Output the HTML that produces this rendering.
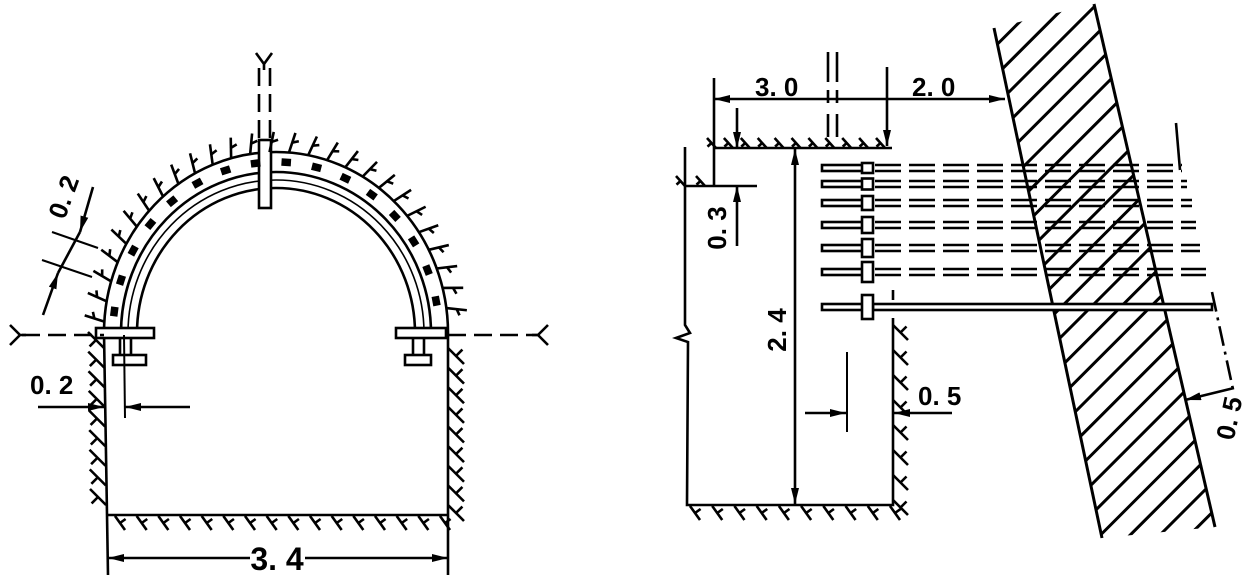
<!DOCTYPE html>
<html><head><meta charset="utf-8"><style>
html,body{margin:0;padding:0;background:#fff;}
svg{display:block;}
text{font-family:"Liberation Sans",sans-serif;font-weight:bold;fill:#000;}
</style></head><body>
<svg id="s" width="1257" height="583" viewBox="0 0 1257 583" xmlns="http://www.w3.org/2000/svg">
<defs>
<marker id="a" viewBox="0 0 16 8" refX="16" refY="4" markerWidth="16" markerHeight="8" markerUnits="userSpaceOnUse" orient="auto-start-reverse"><path d="M0,0 L16,4 L0,8 z" fill="#000"/></marker>
<pattern id="hp" patternUnits="userSpaceOnUse" width="21" height="21" patternTransform="rotate(45)"><rect x="0" y="0" width="3" height="21" fill="#000"/></pattern>
</defs>
<g fill="none" stroke="#000" stroke-width="2.6" id="g">
<line x1="104" y1="333" x2="108" y2="575"/>
<line x1="448" y1="333" x2="448" y2="575"/>
<line x1="108" y1="515" x2="448" y2="515"/>
<path d="M104,333 A172,181 0 0 1 448,333"/>
<path d="M121,333 A155,161 0 0 1 431,333" stroke-width="2.6"/>
<path d="M128,333 A148,153 0 0 1 424,333" stroke-width="1.6"/>
<path d="M137,333 A139,145 0 0 1 415,333" stroke-width="2.6"/>
<rect x="96" y="328" width="58" height="10" fill="#fff"/>
<rect x="396" y="328" width="50" height="10" fill="#fff"/>
<line x1="120" y1="338" x2="120" y2="355"/><line x1="131" y1="338" x2="131" y2="355"/>
<line x1="413" y1="338" x2="413" y2="355"/><line x1="424" y1="338" x2="424" y2="355"/>
<rect x="113" y="355" width="33" height="10" fill="#fff"/>
<rect x="405" y="355" width="26" height="10" fill="#fff"/>
<line x1="22" y1="335" x2="104" y2="335" stroke-dasharray="18,8"/>
<line x1="448" y1="335" x2="540" y2="335" stroke-dasharray="18,8"/>
<path d="M10,325 L20,335 L10,345 M20,335 L26,335"/>
<path d="M548,325 L538,335 L548,345 M538,335 L532,335"/>
<line x1="259" y1="68" x2="259" y2="140" stroke-dasharray="18,8"/>
<line x1="270" y1="68" x2="270" y2="140" stroke-dasharray="18,8"/>
<path d="M256,53 L264,64 L272,53 M264,64 L264,70"/>
<rect x="259" y="140" width="12" height="68" fill="#fff"/>
<line x1="38" y1="407" x2="104" y2="407" marker-end="url(#a)"/>
<line x1="190" y1="407" x2="125" y2="407" marker-end="url(#a)"/>
<line x1="124" y1="335" x2="125" y2="418" stroke-width="2"/>
<line x1="43" y1="315" x2="58" y2="273" marker-end="url(#a)"/>
<line x1="93" y1="187" x2="80" y2="232" marker-end="url(#a)"/>
<line x1="58" y1="273" x2="80" y2="232"/>
<line x1="42" y1="260" x2="92" y2="277" stroke-width="2"/>
<line x1="52" y1="232" x2="98" y2="248" stroke-width="2"/>
<line x1="250" y1="558" x2="108" y2="558" marker-end="url(#a)"/>
<line x1="305" y1="558" x2="448" y2="558" marker-end="url(#a)"/>

<line x1="714" y1="148" x2="892" y2="148"/>
<line x1="714" y1="78" x2="714" y2="186"/>
<line x1="685" y1="186" x2="757" y2="186"/>
<path d="M685,147 L685,325 L690,333 L676,338 L688,342 L687,505 L893,505 L893,318"/>
<line x1="893" y1="290" x2="893" y2="300"/>
<line x1="760" y1="99" x2="714" y2="99" marker-end="url(#a)"/>
<line x1="760" y1="99" x2="887" y2="99"/>
<line x1="887" y1="99" x2="1005" y2="99" marker-end="url(#a)"/>
<line x1="887" y1="67" x2="887" y2="146" marker-end="url(#a)"/>
<line x1="828" y1="52" x2="828" y2="137" stroke-dasharray="30,8,13,11"/>
<line x1="837" y1="52" x2="837" y2="137" stroke-dasharray="30,8,13,11"/>
<line x1="737" y1="108" x2="737" y2="148" marker-end="url(#a)"/>
<line x1="737" y1="246" x2="737" y2="186" marker-end="url(#a)"/>
<line x1="795" y1="330" x2="795" y2="149" marker-end="url(#a)"/>
<line x1="795" y1="330" x2="795" y2="504" marker-end="url(#a)"/>
<line x1="805" y1="413" x2="846" y2="413" marker-end="url(#a)"/>
<line x1="952" y1="413" x2="894" y2="413" marker-end="url(#a)"/>
<line x1="847" y1="352" x2="847" y2="432" stroke-width="2"/>
<polygon points="994,28 1094,4 1215,527 1102,538" fill="url(#hp)" stroke="none"/>
<line x1="994" y1="28" x2="1102" y2="538" stroke-width="3"/>
<line x1="1094" y1="4" x2="1215" y2="527" stroke-width="3"/>
<line x1="1176" y1="123" x2="1180" y2="170"/>
<line x1="1212" y1="292" x2="1234" y2="394" stroke-dasharray="20,6,3,6"/>
<line x1="1234" y1="388" x2="1185" y2="400" marker-end="url(#a)"/>
<g id="bolts"></g>
<g id="ticks" stroke-width="2.6"></g>
</g>
<text x="30" y="394" font-size="26">0. 2</text>
<text transform="translate(72,200) rotate(-70)" font-size="26" text-anchor="middle">0. 2</text>
<text x="277" y="570" font-size="32" text-anchor="middle">3. 4</text>
<text x="755" y="96" font-size="26">3. 0</text>
<text x="912" y="96" font-size="26">2. 0</text>
<text transform="translate(726,228) rotate(-90)" font-size="26" text-anchor="middle">0. 3</text>
<text transform="translate(786,330) rotate(-90)" font-size="26" text-anchor="middle">2. 4</text>
<text x="918" y="405" font-size="26">0. 5</text>
<text transform="translate(1238,420) rotate(-78)" font-size="26" text-anchor="middle">0. 5</text>
</svg>
<script>
var NS="http://www.w3.org/2000/svg";
function el(p,t,a){var e=document.createElementNS(NS,t);for(var k in a)e.setAttribute(k,a[k]);p.appendChild(e);return e;}
var B=document.getElementById("bolts"),T=document.getElementById("ticks");
var rows=[[168,10,1182],[184,11,1187],[203,14,1192],[225,16,1196],[248,18,1200],[272,20,1206],[307,24,1212]];
rows.forEach(function(r,i){
 var y=r[0],h=r[1],e=r[2];
 el(B,"rect",{x:822,y:y-3,width:41,height:6,fill:"#fff"});
 if(i<6){
  el(B,"line",{x1:875,y1:y-3,x2:e,y2:y-3,"stroke-dasharray":"26,8"});
  el(B,"line",{x1:875,y1:y+3,x2:e,y2:y+3,"stroke-dasharray":"26,8"});
 } else {
  el(B,"rect",{x:873,y:y-3,width:e-873,height:6,fill:"#fff"});
 }
 el(B,"rect",{x:862,y:y-h/2,width:11,height:h,fill:"#fff"});
});
var cx=276,cy=333;
for(var t=0.02;t<0.99;t+=0.036){
 var a=Math.PI*(1-t);
 var x=cx+172*Math.cos(a),y=cy-181*Math.sin(a);
 var nx=Math.cos(a),ny=-Math.sin(a);
 var tx=-ny,ty=nx;
 el(T,"line",{x1:x,y1:y,x2:x+nx*20+tx*5,y2:y+ny*20+ty*5});
 el(T,"line",{x1:x+nx*10+tx*2,y1:y+ny*10+ty*2,x2:x+nx*12+tx*9,y2:y+ny*12+ty*9});
}
for(var t=0.04;t<0.97;t+=0.06){
 var a=Math.PI*(1-t);
 var bx=cx+163*Math.cos(a),by=cy-171*Math.sin(a);
 el(T,"rect",{x:bx-4,y:by-3,width:8,height:6,fill:"#000","stroke-width":1.5,transform:"rotate("+(90-a*180/Math.PI)+" "+bx+" "+by+")"});
}
function hatch(x1,y1,x2,y2,n,dx,dy){for(var i=0;i<=n;i++){var x=x1+(x2-x1)*i/n,y=y1+(y2-y1)*i/n;el(T,"line",{x1:x,y1:y,x2:x+dx,y2:y+dy});var mx=x+dx*0.5,my=y+dy*0.5;el(T,"line",{x1:mx,y1:my,x2:mx+dy*0.4,y2:my-dx*0.4});}}
hatch(104,348,106,505,8,-16,-16);
hatch(448,348,448,505,8,16,16);
hatch(115,516,440,516,15,10,14);
hatch(716,148,885,148,10,-9,-10);
hatch(705,186,685,186,1,-9,-10);
hatch(893,325,893,500,7,15,15);
hatch(690,506,890,506,9,10,14);
</script>
</body></html>
